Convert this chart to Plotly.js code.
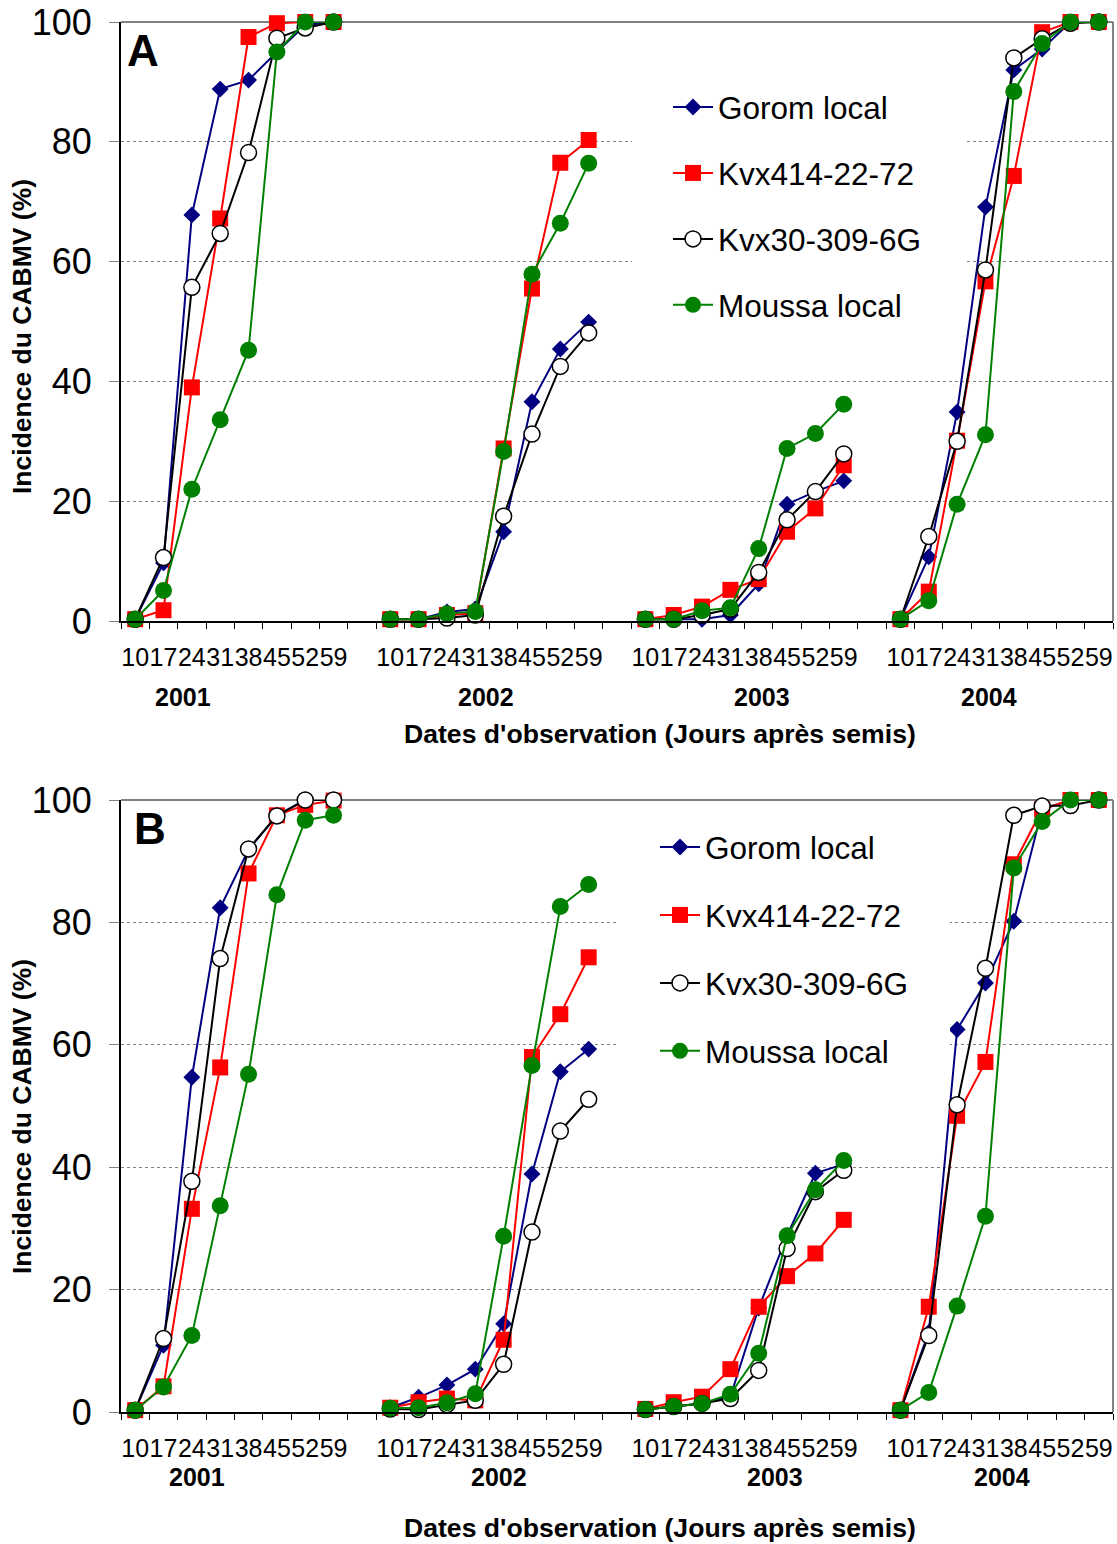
<!DOCTYPE html>
<html>
<head>
<meta charset="utf-8">
<script src="https://cdn.plot.ly/plotly-3.0.1.min.js"></script>
<style>html,body{margin:0;padding:0;background:#fff;}#chart{width:1117px;height:1544px;}</style>
</head>
<body>
<div id="chart"></div>
<script>
// ---- data ----
const days = ['10','17','24','31','38','45','52','59'];
const years = ['2001','2002','2003','2004'];
const seriesNames = ['Gorom local','Kvx414-22-72','Kvx30-309-6G','Moussa local'];

// Panel A (4 years x 8 dates)
const A_gorom  = [0.3,9.7,67.8,88.8,90.3,95.0,99.5,100,  0.3,0.3,1.5,2.0,14.9,36.6,45.4,49.9,  0.3,0.3,0.3,1.0,6.2,19.5,21.6,23.4,  0.3,10.7,34.9,69.1,92.0,95.5,100,100];
const A_kvx414 = [0.3,1.8,39.0,67.2,97.5,99.8,100,100,  0.3,0.3,1.0,1.3,28.8,55.5,76.5,80.3,  0.3,1.0,2.4,5.2,7.0,14.9,18.8,26.0,  0.3,4.9,30.1,56.7,74.3,98.3,100,100];
const A_kvx30  = [0.3,10.6,55.7,64.7,78.2,97.3,99.0,100, 0.3,0.3,0.5,1.0,17.5,31.2,42.5,48.1,  0.3,0.3,1.0,2.0,8.1,16.9,21.6,27.9,  0.3,14.1,30.0,58.6,94.0,97.2,99.8,100];
const A_moussa = [0.3,5.1,22.0,33.6,45.2,95.0,100,100,   0.3,0.3,1.2,1.6,28.3,57.9,66.4,76.4,  0.3,0.3,1.7,2.2,12.1,28.8,31.3,36.2, 0.3,3.4,19.5,31.1,88.4,96.4,100,100];

// Panel B
const B_gorom  = [0.3,10.9,54.7,82.4,91.9,97.5,100,100,  0.7,2.4,4.4,7.0,14.4,38.9,55.6,59.3,  0.4,0.9,1.4,2.5,17.0,28.8,39.0,40.5, 0.3,13.0,62.5,70.1,80.2,98.5,100,100];
const B_kvx414 = [0.3,4.2,33.2,56.3,88.0,97.5,99.2,99.9, 0.7,1.6,2.2,1.9,11.8,58.0,65.0,74.3,  0.5,1.6,2.5,7.0,17.2,22.2,25.9,31.4, 0.3,17.2,48.4,57.2,89.5,98.5,100,100];
const B_kvx30  = [0.3,12.0,37.7,74.1,92.0,97.4,100,100,  0.5,0.4,1.2,1.9,7.8,29.4,45.9,51.1,   0.4,0.9,1.4,2.2,6.8,26.7,36.0,39.5,  0.3,12.5,50.2,72.5,97.5,99.0,99.1,100];
const B_moussa = [0.3,4.1,12.5,33.7,55.2,84.5,96.7,97.5, 0.6,0.7,1.5,3.0,28.7,56.6,82.6,86.2,  0.4,0.9,1.4,2.9,9.6,28.8,36.3,41.1,  0.3,3.2,17.3,32.0,88.9,96.5,100,100];

// ---- helpers ----
const W = 1117, H = 1544;
const px = x => x / W;
const py = y => 1 - y / H;
const FONT = 'Liberation Sans, Arial, sans-serif';

// positions: each year group = 8 slots, one empty slot between groups
function buildXY(vals) {
  const x = [], y = [];
  years.forEach((yr, g) => {
    days.forEach((d, j) => { x.push(g * 9 + j); y.push(vals[g * 8 + j]); });
    if (g < years.length - 1) { x.push(g * 9 + 8); y.push(null); }
  });
  return {x, y};
}
const tickvals = [], ticktext = [];
years.forEach((yr, g) => days.forEach((d, j) => { tickvals.push(g * 9 + j); ticktext.push(d); }));

const styles = [
  {line:{color:'#000080', width:2}, marker:{symbol:'diamond', size:13, color:'#000080', line:{width:0}}},
  {line:{color:'#FF0000', width:2}, marker:{symbol:'square', size:16, color:'#FF0000', line:{width:0}}},
  {line:{color:'#000000', width:2}, marker:{symbol:'circle', size:16, color:'#FFFFFF', line:{color:'#000000', width:1.5}}},
  {line:{color:'#008000', width:2}, marker:{symbol:'circle', size:17, color:'#008000', line:{width:0}}}
];

const traces = [];
function addPanel(arrs, xa, ya, leg, tag) {
  arrs.forEach((vals, i) => {
    const xy = buildXY(vals);
    traces.push(Object.assign({
      type:'scatter', mode:'lines+markers', name: seriesNames[i],
      x: xy.x, y: xy.y, xaxis: xa, yaxis: ya, legend: leg,
      legendgroup: tag + i, connectgaps:false, cliponaxis:false,
      hoverinfo:'x+y'
    }, styles[i]));
  });
}
addPanel([A_gorom, A_kvx414, A_kvx30, A_moussa], 'x', 'y', 'legend', 'A');
addPanel([B_gorom, B_kvx414, B_kvx30, B_moussa], 'x2', 'y2', 'legend2', 'B');

function xAxis(domain, anchor) {
  return {
    domain: domain, anchor: anchor, type:'linear', range:[-0.5, 34.5],
    showline:true, linecolor:'#000', linewidth:2, showgrid:false, zeroline:false,
    tickmode:'array', tickvals: tickvals, ticktext: ticktext, ticks:'', tickangle:0,
    tickfont:{family:FONT, size:25, color:'#000'}, ticklabelstandoff: 13,
    minor:{tickmode:'linear', tick0:-0.5, dtick:1, ticks:'outside', ticklen:6, tickcolor:'#000', tickwidth:1, showgrid:false},
    fixedrange:true
  };
}
function yAxis(domain, anchor) {
  return {
    domain: domain, anchor: anchor, range:[0,100], tickmode:'array', tickvals:[0,20,40,60,80,100],
    showline:true, linecolor:'#000', linewidth:2, zeroline:false,
    showgrid:true, gridcolor:'#808080', gridwidth:1, griddash:'dot',
    ticks:'outside', ticklen:10, tickcolor:'#808080', tickwidth:1,
    tickfont:{family:FONT, size:36, color:'#000'}, ticklabelstandoff: 10,
    fixedrange:true
  };
}

const xDom = [px(121), px(1113)];
const layout = {
  width: W, height: H, margin:{l:0, r:0, t:0, b:0},
  paper_bgcolor:'#fff', plot_bgcolor:'#fff',
  font:{family:FONT, color:'#000'},
  xaxis: xAxis(xDom, 'y'),
  yaxis: yAxis([py(621), py(22)], 'x'),
  xaxis2: xAxis(xDom, 'y2'),
  yaxis2: yAxis([py(1412), py(800)], 'x2'),
  legend: {x: px(668), y: py(80), xanchor:'left', yanchor:'top', bgcolor:'rgba(255,255,255,0)', borderwidth:0,
           font:{family:FONT, size:31.5, color:'#000'}, tracegroupgap: 22, itemwidth: 40},
  legend2:{x: px(655), y: py(820), xanchor:'left', yanchor:'top', bgcolor:'rgba(255,255,255,0)', borderwidth:0,
           font:{family:FONT, size:31.5, color:'#000'}, tracegroupgap: 24, itemwidth: 40},
  shapes: [
    // plain white backing of the legend boxes (hides the dotted grid there)
    {type:'rect', xref:'paper', yref:'paper', x0:px(632), x1:px(964), y0:py(78), y1:py(335), layer:'above', line:{width:0}, fillcolor:'#fff'},
    {type:'rect', xref:'paper', yref:'paper', x0:px(618), x1:px(950), y0:py(815), y1:py(1085), layer:'above', line:{width:0}, fillcolor:'#fff'},
    // grey frame top / right
    {type:'line', xref:'x domain', yref:'y domain', x0:0, x1:1, y0:1, y1:1, layer:'below', line:{color:'#808080', width:2}},
    {type:'line', xref:'x domain', yref:'y domain', x0:1, x1:1, y0:0, y1:1, layer:'below', line:{color:'#808080', width:2}},
    {type:'line', xref:'x2 domain', yref:'y2 domain', x0:0, x1:1, y0:1, y1:1, layer:'below', line:{color:'#808080', width:2}},
    {type:'line', xref:'x2 domain', yref:'y2 domain', x0:1, x1:1, y0:0, y1:1, layer:'below', line:{color:'#808080', width:2}}
  ],
  annotations: []
};

const ann = layout.annotations;
function addText(text, x, y, size, bold, angle) {
  ann.push({xref:'paper', yref:'paper', x: px(x), y: py(y), xanchor:'center', yanchor:'middle',
            text: bold ? '<b>' + text + '</b>' : text, showarrow:false, textangle: angle || 0,
            font:{family:FONT, size:size, color:'#000'}});
}
addText('A', 143, 50, 44, true);
addText('B', 150, 828, 44, true);
const yearPosA = [183, 486, 762, 989], yearPosB = [197, 499, 775, 1002];
years.forEach((yr, g) => { addText(yr, yearPosA[g], 697, 25, true); addText(yr, yearPosB[g], 1477, 25, true); });
addText("Dates d'observation (Jours après semis)", 660, 734, 26.6, true);
addText("Dates d'observation (Jours après semis)", 660, 1528, 26.6, true);
addText('Incidence du CABMV (%)', 22, 337, 26.5, true, -90);
addText('Incidence du CABMV (%)', 22, 1117, 26.5, true, -90);

Plotly.newPlot('chart', traces, layout, {staticPlot:true, displayModeBar:false});
</script>
</body>
</html>
